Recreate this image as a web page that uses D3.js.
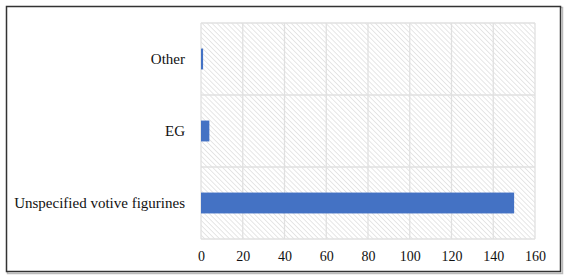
<!DOCTYPE html>
<html><head><meta charset="utf-8">
<script src="https://cdn.jsdelivr.net/npm/d3@7"></script>
<style>body{margin:0;background:#fff}svg{display:block}</style>
</head><body>
<script>
const categories = ["Other", "EG", "Unspecified votive figurines"];
const values = [1, 4, 150];
const xTicks = [0, 20, 40, 60, 80, 100, 120, 140, 160];

const W = 568, H = 279;
const m = {left: 201, right: 33, top: 23, bottom: 40};
const svg = d3.select("body").append("svg").attr("width", W).attr("height", H);

const defs = svg.append("defs");
const pat = defs.append("pattern").attr("id", "hatch").attr("patternUnits", "userSpaceOnUse")
  .attr("width", 3.5).attr("height", 3.5).attr("patternTransform", "rotate(-45)");
pat.append("rect").attr("width", 3.5).attr("height", 3.5).attr("fill", "#fff");
pat.append("line").attr("x1", 0).attr("y1", 0).attr("x2", 0).attr("y2", 3.5)
  .attr("stroke", "#d6d6d6").attr("stroke-width", 1.2);

// outer frame
svg.append("rect").attr("x", 7.5).attr("y", 7.5).attr("width", 555).attr("height", 266)
  .attr("fill", "none").attr("stroke", "#bbb").attr("stroke-width", 1.5);
svg.append("rect").attr("x", 6.5).attr("y", 6.5).attr("width", 554).attr("height", 265)
  .attr("fill", "#fff").attr("stroke", "#333").attr("stroke-width", 1.5);

const x = d3.scaleLinear().domain([0, 160]).range([m.left, W - m.right]);
const y = d3.scaleBand().domain(categories).range([m.top, H - m.bottom]).paddingInner(0.71).paddingOuter(0.355);
const yRows = d3.scaleBand().domain(categories).range([m.top, H - m.bottom]);

svg.append("rect").attr("x", m.left).attr("y", m.top)
  .attr("width", x(160) - m.left).attr("height", H - m.bottom - m.top).attr("fill", "url(#hatch)");

const grid = svg.append("g").attr("stroke", "#e0e0e0").attr("stroke-width", 1.3);
grid.selectAll(".v").data(xTicks).join("line")
  .attr("x1", d => x(d)).attr("x2", d => x(d)).attr("y1", m.top).attr("y2", H - m.bottom);
const hLines = categories.map(c => yRows(c)).concat([H - m.bottom]);
grid.selectAll(".h").data(hLines).join("line")
  .attr("x1", m.left).attr("x2", x(160)).attr("y1", d => d).attr("y2", d => d);

svg.append("g").selectAll("rect").data(categories).join("rect")
  .attr("x", x(0)).attr("y", c => y(c))
  .attr("width", (c, i) => x(values[i]) - x(0)).attr("height", y.bandwidth())
  .attr("fill", "#4472c4");

const xAxis = svg.append("g").attr("transform", `translate(0,${H - m.bottom})`)
  .call(d3.axisBottom(x).tickValues(xTicks).tickSize(0).tickPadding(12));
xAxis.select(".domain").remove();
xAxis.selectAll("text").attr("font-family", "Liberation Serif, Times New Roman, serif")
  .attr("font-size", 14).attr("fill", "#111");

const yAxis = svg.append("g").attr("transform", `translate(${m.left},0)`)
  .call(d3.axisLeft(yRows).tickSize(0).tickPadding(16));
yAxis.select(".domain").remove();
yAxis.selectAll("text").attr("font-family", "Liberation Serif, Times New Roman, serif")
  .attr("font-size", 15).attr("fill", "#111");
</script>
</body></html>
